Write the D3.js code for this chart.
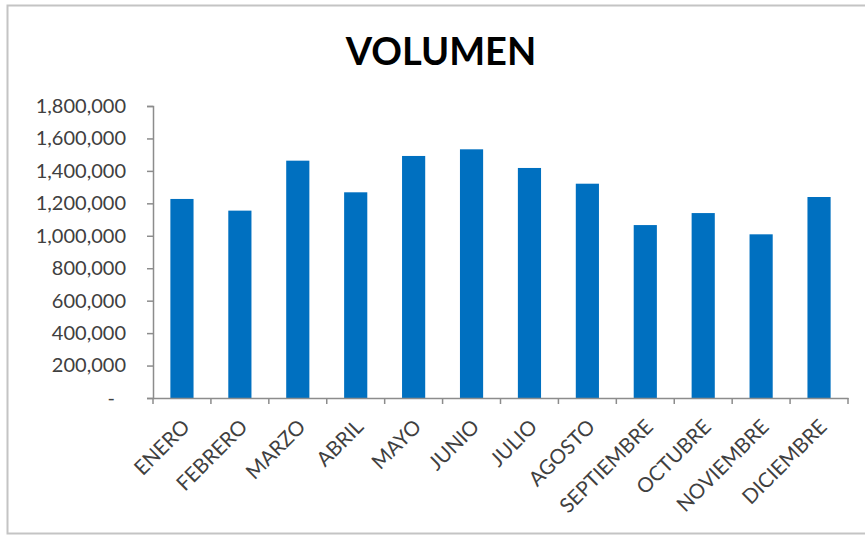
<!DOCTYPE html>
<html>
<head>
<meta charset="utf-8">
<script src="https://cdn.jsdelivr.net/npm/d3@7"></script>
<style>
  html, body { margin: 0; padding: 0; background: #fff; }
  svg { display: block; }
</style>
</head>
<body>
<svg id="chart" width="865" height="536"></svg>
<script>
const title = "VOLUMEN";
const months = ["ENERO","FEBRERO","MARZO","ABRIL","MAYO","JUNIO","JULIO","AGOSTO","SEPTIEMBRE","OCTUBRE","NOVIEMBRE","DICIEMBRE"];
const volumes = [1227000, 1155000, 1463000, 1268000, 1492000, 1533000, 1418000, 1321000, 1066000, 1140000, 1009000, 1239000];
const yTicks = [0, 200000, 400000, 600000, 800000, 1000000, 1200000, 1400000, 1600000, 1800000];

const W = 865, H = 536;
const margin = { left: 153, right: 17, top: 106, bottom: 138 };
const fontFam = "Lato, 'Open Sans', sans-serif";

const svg = d3.select("#chart");

// chart frame
svg.append("rect")
  .attr("x", 7.5).attr("y", 5.5)
  .attr("width", W + 10).attr("height", 528)
  .attr("fill", "#fff")
  .attr("stroke", "#c4c4c4").attr("stroke-width", 2);

const x = d3.scaleBand()
  .domain(months)
  .range([margin.left, W - margin.right])
  .paddingInner(0.6).paddingOuter(0.3);

const y = d3.scaleLinear()
  .domain([0, 1800000])
  .range([H - margin.bottom, margin.top]);

// title
svg.append("text")
  .attr("x", 441).attr("y", 65)
  .attr("text-anchor", "middle")
  .attr("font-family", fontFam)
  .attr("font-weight", 700)
  .attr("font-size", 38)
  .attr("fill", "#000")
  .text(title);

// bars
svg.append("g").selectAll("rect")
  .data(months.map((m, i) => ({ m, v: volumes[i] })))
  .join("rect")
  .attr("x", d => x(d.m))
  .attr("y", d => y(d.v))
  .attr("width", x.bandwidth())
  .attr("height", d => y(0) - y(d.v))
  .attr("fill", "#0070c0");

// y axis
const fmt = d3.format(",");
const yAxis = svg.append("g")
  .attr("transform", `translate(${margin.left},0)`)
  .call(d3.axisLeft(y).tickValues(yTicks).tickSize(6).tickPadding(21)
    .tickFormat(d => d === 0 ? "-" : fmt(d)));
yAxis.select(".domain").attr("stroke", "#8c8c8c").attr("stroke-width", 1.5);
yAxis.selectAll(".tick line").attr("stroke", "#8c8c8c").attr("stroke-width", 1.5);
yAxis.selectAll(".tick text")
  .attr("font-family", fontFam)
  .attr("font-size", 20)
  .attr("fill", "#404040")
  .attr("dx", d => d === 0 ? -11 : 0);

// x axis
const xAxis = svg.append("g")
  .attr("transform", `translate(0,${y(0)})`)
  .call(d3.axisBottom(x).tickSize(0).tickFormat(d => d));
xAxis.select(".domain").attr("stroke", "#8c8c8c").attr("stroke-width", 1.5);
xAxis.selectAll(".tick text")
  .attr("font-family", fontFam)
  .attr("font-size", 20.5)
  .attr("fill", "#404040")
  .attr("text-anchor", "end")
  .attr("transform", "translate(4,25) rotate(-45)")
  .attr("dy", "0.35em")
  .attr("y", 0).attr("x", 0);

// x tick marks at band boundaries
const step = x.step();
const boundaries = d3.range(months.length + 1).map(i => margin.left + i * step);
xAxis.append("g").selectAll("line")
  .data(boundaries)
  .join("line")
  .attr("x1", d => d).attr("x2", d => d)
  .attr("y1", 0).attr("y2", 6)
  .attr("stroke", "#8c8c8c").attr("stroke-width", 1.5);
</script>
</body>
</html>
